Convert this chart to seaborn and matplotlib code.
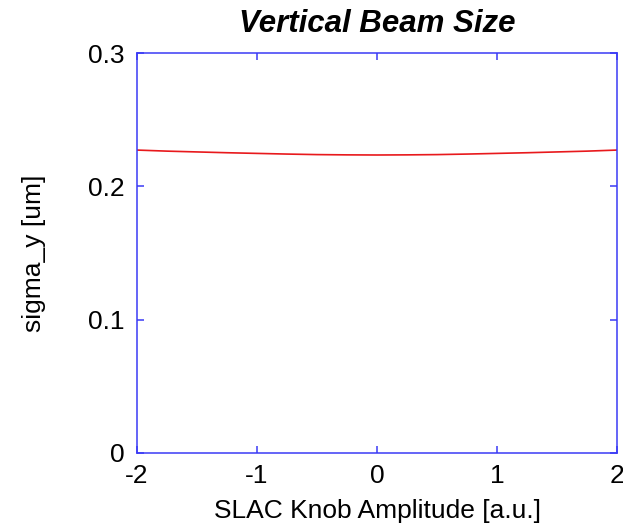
import matplotlib
matplotlib.use("Agg")
import matplotlib.pyplot as plt
import seaborn as sns
import pandas as pd

knob = [-2.0, -1.75, -1.5, -1.25, -1.0, -0.75, -0.5, -0.25, 0.0, 0.25, 0.5, 0.75, 1.0, 1.25, 1.5, 1.75, 2.0]
sigma_y = [0.2272, 0.2264, 0.2258, 0.2252, 0.2247, 0.2242, 0.2238, 0.2236, 0.2235,
           0.2236, 0.2238, 0.2242, 0.2247, 0.2252, 0.2258, 0.2264, 0.2272]

xticks = [-2, -1, 0, 1, 2]
yticks = [0, 0.1, 0.2, 0.3]

sns.set_style("white")
plt.rcParams['font.family'] = ['Liberation Sans', 'DejaVu Sans']
plt.rcParams['text.color'] = 'black'
plt.rcParams['axes.labelcolor'] = 'black'

df = pd.DataFrame({"knob": knob, "sigma_y": sigma_y})

fig = plt.figure(figsize=(6.23, 5.25), dpi=100)
ax = fig.add_axes([137/623, 1 - 453/525, 480/623, 400/525])
sns.lineplot(data=df, x="knob", y="sigma_y", color="#e8191c", linewidth=1.2, ax=ax)

ax.set_xlim(-2, 2)
ax.set_ylim(0, 0.3)
ax.set_xticks(xticks)
ax.set_xticklabels([str(t) for t in xticks])
ax.set_yticks(yticks)
ax.set_yticklabels(["0", "0.1", "0.2", "0.3"])
for s in ax.spines.values():
    s.set_color("#3a3af5")
    s.set_linewidth(1.1)
    s.set_visible(True)
ax.tick_params(direction="in", length=5, width=1.1, color="#3a3af5",
               top=True, right=True, bottom=True, left=True,
               labelsize=19, labelcolor="black")
ax.tick_params(axis="y", pad=9)
ax.tick_params(axis="x", pad=8)
ax.set_xlabel("SLAC Knob Amplitude [a.u.]", fontsize=19, labelpad=8, color="black")
ax.set_ylabel("sigma_y [um]", fontsize=19, labelpad=30, color="black")
ax.set_title("Vertical Beam Size", fontsize=22.5, fontweight="bold", fontstyle="italic",
             pad=15, color="black")

fig.savefig("out.png", dpi=100, facecolor="white")
